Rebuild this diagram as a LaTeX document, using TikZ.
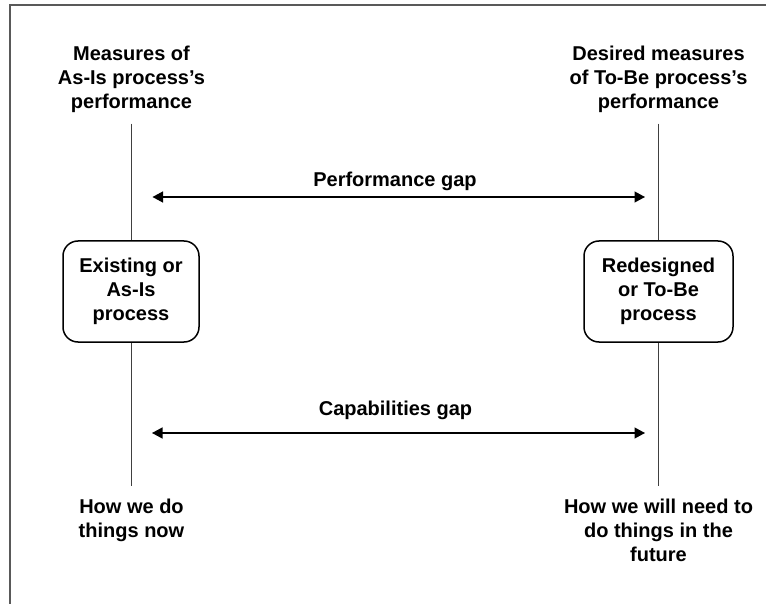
\documentclass[tikz,border=0pt]{standalone}
\usepackage{fontspec}
\setmainfont{Liberation Sans}
\usetikzlibrary{arrows.meta}
\begin{document}
\begin{tikzpicture}[x=1pt,y=-1pt,
  lbl/.style={font=\fontsize{20}{24}\selectfont\bfseries, align=center, inner sep=0pt},
  proc/.style={lbl, draw=black, line width=1.5pt, rounded corners=15pt},
  vline/.style={draw=black!75, line width=1pt},
  gaparrow/.style={draw=black, line width=1.2pt, {Triangle[length=10.5pt,width=11pt]}-{Triangle[length=10.5pt,width=11pt]}},
  framestyle/.style={draw=black!65, line width=2pt}]
\useasboundingbox (0,0) rectangle (766,604);
\draw[framestyle] (10,604) -- (10,5) -- (766,5);

% top labels
\node[lbl, anchor=north] (tl) at (131.5,45.5) {Measures of\\As-Is process’s\\performance};
\node[lbl, anchor=north] (tr) at (658.5,45.5) {Desired measures\\of To-Be process’s\\performance};

% process boxes
\node[proc, minimum width=136pt, minimum height=101pt] (bl) at (131,291.5) {Existing or\\As-Is\\process};
\node[proc, minimum width=149pt, minimum height=101pt] (br) at (658.5,291.5) {Redesigned\\or To-Be\\process};

% bottom labels
\node[lbl, anchor=north] (hl) at (131.5,498.5) {How we do\\things now};
\node[lbl, anchor=north] (hr) at (658.5,498.5) {How we will need to\\do things in the\\future};

% vertical connectors
\draw[vline, shorten <=11pt] (tl.south -| bl.north) -- (bl.north);
\draw[vline, shorten >=13pt] (bl.south) -- (bl.south |- hl.north);
\draw[vline, shorten <=11pt] (tr.south -| br.north) -- (br.north);
\draw[vline, shorten >=13pt] (br.south) -- (br.south |- hr.north);

% gap arrows
\coordinate (pa1) at (152.5,197);
\coordinate (pa2) at (645,197);
\draw[gaparrow] (pa1) -- (pa2);
\node[lbl, anchor=base] (pg) at (395,187) {Performance gap};

\coordinate (ca1) at (152,433);
\coordinate (ca2) at (645,433);
\draw[gaparrow] (ca1) -- (ca2);
\node[lbl, anchor=base] (cg) at (395.5,415) {Capabilities gap};
\end{tikzpicture}
\end{document}
